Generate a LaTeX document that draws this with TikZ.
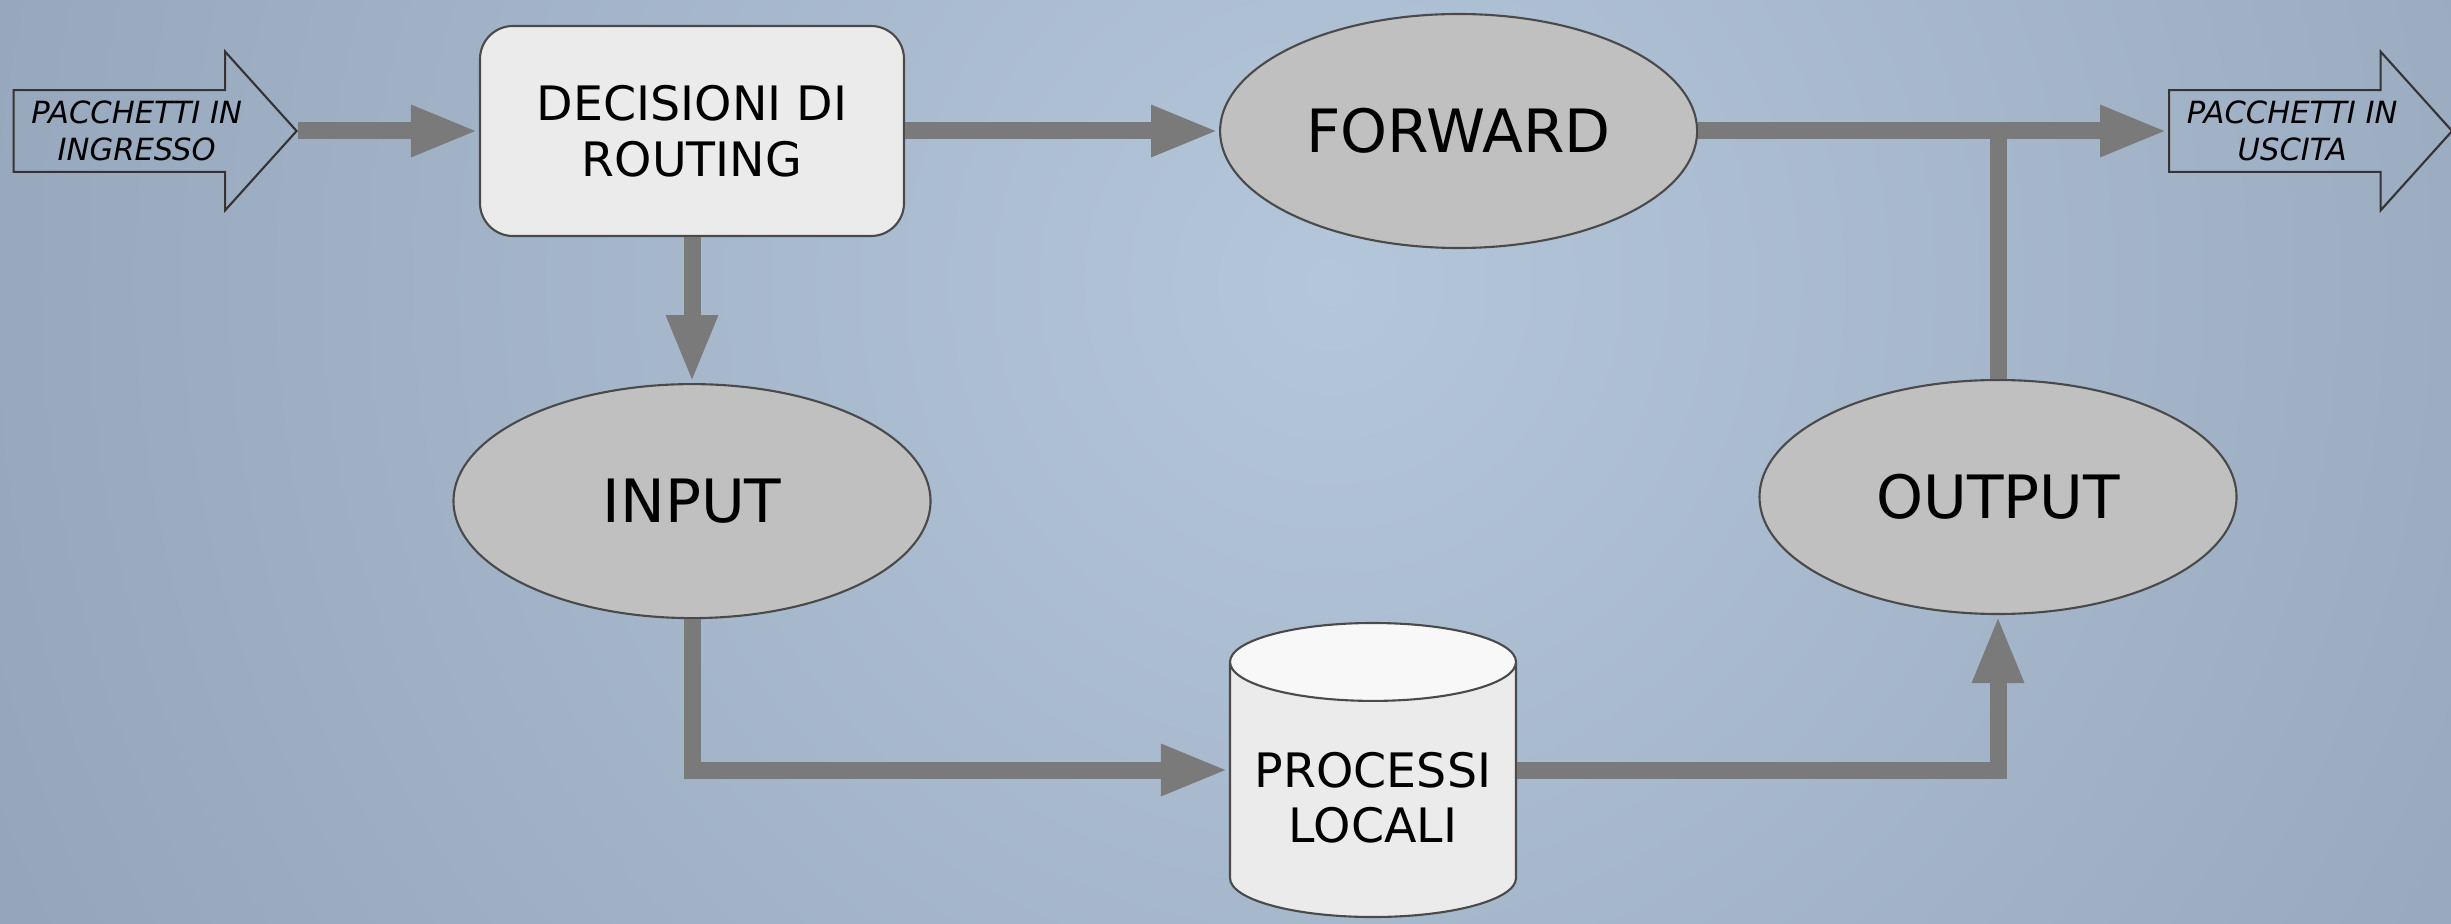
\documentclass[tikz,border=0pt]{standalone}
\usepackage{fontspec}
\setmainfont{DejaVu Sans}
\usepackage{tikz}
\usetikzlibrary{
  shapes.geometric,
  shapes.arrows,
  arrows.meta,
  positioning,
  calc,
}
\definecolor{sfondochiaro}{HTML}{B4C6DA}
\definecolor{sfondoscuro}{HTML}{74839A}
\definecolor{grigiolinea}{HTML}{7A7A7A}
\definecolor{grigiocatena}{HTML}{C0C0C0}
\definecolor{grigiobordo}{HTML}{4A4A4A}
\definecolor{grigiochiaro}{HTML}{EBEBEB}
\definecolor{grigiotappo}{HTML}{F8F8F8}

\begin{document}
\begin{tikzpicture}[
  catena/.style={
    ellipse,
    draw=grigiobordo,
    line width=0.6pt,
    fill=grigiocatena,
    minimum width=4.77cm,
    minimum height=2.34cm,
    inner sep=0pt,
    font=\fontsize{17}{20}\selectfont,
  },
  decisione/.style={
    draw=grigiobordo,
    line width=0.6pt,
    fill=grigiochiaro,
    rounded corners=0.33cm,
    minimum width=4.24cm,
    minimum height=2.10cm,
    align=center,
    font=\fontsize{13.5}{15.8}\selectfont,
  },
  processi/.style={
    cylinder,
    shape border rotate=90,
    aspect=0.30,
    draw=grigiobordo,
    line width=0.6pt,
    cylinder uses custom fill,
    cylinder body fill=grigiochiaro,
    cylinder end fill=grigiotappo,
    minimum width=2.86cm,
    minimum height=2.94cm,
    align=center,
    font=\fontsize{13.5}{15.8}\selectfont,
  },
  pacchetti/.style={
    single arrow,
    draw=grigiobordo!70!black,
    line width=0.6pt,
    single arrow head extend=0.385cm,
    single arrow tip angle=96,
    minimum height=2.83cm,
    inner ysep=0.1cm,
    align=center,
    font=\fontsize{8.7}{10.4}\selectfont\itshape,
  },
  flusso/.style={
    -{Triangle[length=0.68cm, width=0.47cm]},
    line width=0.17cm,
    draw=grigiolinea,
  },
  raccordo/.style={
    line width=0.17cm,
    draw=grigiolinea,
  },
]

\pgfmathsetlengthmacro{\gaporiz}{3.14cm}
\pgfmathsetlengthmacro{\gapvert}{1.46cm}

% =============================================================================
% Background
% =============================================================================
\useasboundingbox (0,0) rectangle (24.51,9.23);
\begin{scope}
  \clip (0,0) rectangle (24.51,9.23);
  \shade[inner color=sfondochiaro, outer color=sfondoscuro] (13.3,6.4) circle (30cm);
\end{scope}

% =============================================================================
% Top row (routing decision and forward chain)
% =============================================================================
\node[pacchetti, anchor=tip] (ingresso) at (2.98,7.92) {PACCHETTI IN\\INGRESSO};
\node[decisione] (routing) at (6.92,7.92) {DECISIONI DI\\ROUTING};
\node[catena, right=\gaporiz of routing] (forward) {FORWARD};
\node[pacchetti, anchor=tail] (uscita) at (21.68,7.92) {PACCHETTI IN\\USCITA};

\draw[flusso] (ingresso.tip) -- (routing.west);
\draw[flusso] (routing.east) -- (forward.west);
\draw[flusso] (forward.east) -- (uscita.tail);

% =============================================================================
% Lower loop (input -> local processes -> output)
% =============================================================================
\node[catena, below=\gapvert of routing] (input) {INPUT};
\node[catena] (output) at (19.98,4.26) {OUTPUT};
\node[processi, anchor=shape center] (locali) at (13.73,1.53) {PROCESSI\\LOCALI};

% connectors meet the cylinder at its mid height
\coordinate (localiin) at (locali.shape center -| locali.west);
\coordinate (localiout) at (locali.shape center -| locali.east);

\draw[flusso] (input.south) |- (localiin);
\draw[flusso] (localiout) -| (output.south);
\draw[flusso] (routing.south) -- (input.north);

% output joins the main line below the outgoing arrow
\draw[raccordo] (output.north) -- (output.north |- forward.east);

\end{tikzpicture}
\end{document}
